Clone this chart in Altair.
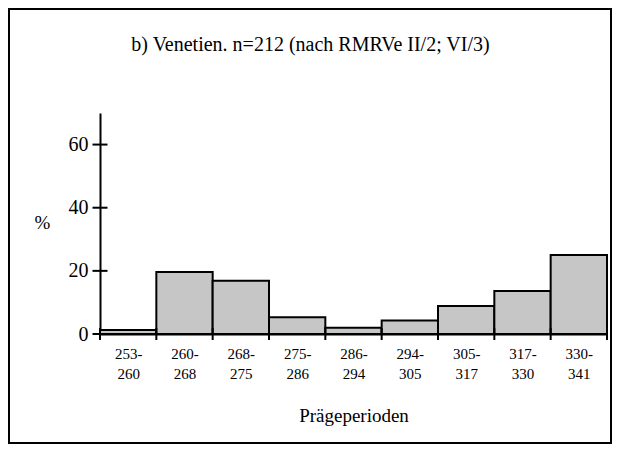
import json
import altair as alt
import pandas as pd

# Data
period_start = ["253", "260", "268", "275", "286", "294", "305", "317", "330"]
period_end = ["260", "268", "275", "286", "294", "305", "317", "330", "341"]
percent = [1.3, 19.6, 16.9, 5.3, 2.0, 4.3, 8.9, 13.6, 25.0]
y_tick_values = [0, 20, 40, 60]

n = len(percent)
bars_df = pd.DataFrame({
    "i0": list(range(n)),
    "i1": list(range(1, n + 1)),
    "pct": percent,
    "period": [f"{a}-{b}" for a, b in zip(period_start, period_end)],
})
edges_df = pd.DataFrame({"edge": list(range(n + 1))})
yticks_df = pd.DataFrame({"v": y_tick_values})

label_lines = [[f"{a}-", b] for a, b in zip(period_start, period_end)]
label_expr = f"{json.dumps(label_lines)}[floor(datum.value)]"

FONT = "Liberation Serif"

xscale = alt.Scale(domain=[0, n], nice=False, zero=False)
yscale = alt.Scale(domain=[0, 70], nice=False)

bars = alt.Chart(bars_df).mark_bar(
    fill="#c6c6c6", stroke="black", strokeWidth=2
).encode(
    x=alt.X("i0:Q", scale=xscale, title="Prägeperioden",
            axis=alt.Axis(values=[i + 0.5 for i in range(n)], labelExpr=label_expr,
                          ticks=False, grid=False, domainColor="black", domainWidth=2,
                          labelFont=FONT, labelFontSize=15, labelColor="black",
                          labelPadding=12, labelLineHeight=20, labelBaseline="top",
                          titleFont=FONT, titleFontSize=19, titleFontWeight="normal",
                          titleColor="black", titlePadding=25)),
    x2="i1:Q",
    y=alt.Y("pct:Q", scale=yscale, title="%",
            axis=alt.Axis(values=y_tick_values, ticks=False, grid=False,
                          domainColor="black", domainWidth=2,
                          labelFont=FONT, labelFontSize=20, labelColor="black",
                          labelPadding=12,
                          titleFont=FONT, titleFontSize=19, titleFontWeight="normal",
                          titleColor="black", titleAngle=0, titleAlign="center",
                          titleBaseline="middle", titleX=-58, titleY=109)),
    y2=alt.datum(0),
)

xticks = alt.Chart(edges_df).mark_tick(
    orient="vertical", size=12, thickness=2, color="black", opacity=1
).encode(
    x=alt.X("edge:Q", scale=xscale),
    y=alt.datum(0),
)

yticks = alt.Chart(yticks_df).mark_tick(
    orient="horizontal", size=15, thickness=2, color="black", opacity=1
).encode(
    y=alt.Y("v:Q", scale=yscale),
    x=alt.datum(0),
)

frame = alt.Chart(pd.DataFrame({"a": [0]})).mark_rect(
    fill=None, stroke="black", strokeWidth=2, clip=False
).encode(
    x=alt.value(-91), x2=alt.value(511),
    y=alt.value(-104), y2=alt.value(330),
)

chart = alt.layer(frame, bars, xticks, yticks).properties(
    width=507,
    height=221,
    autosize=alt.AutoSizeParams(type="none"),
    padding={"left": 92, "top": 105, "right": 6, "bottom": 110},
    title=alt.Title("b) Venetien. n=212 (nach RMRVe II/2; VI/3)",
                    font=FONT, fontSize=20, fontWeight="normal", color="black",
                    anchor="middle", dx=-43, dy=24, offset=-43, baseline="bottom"),
).configure(background="white", view=alt.ViewConfig(stroke=None))

chart.save("out.html", embed_options={"renderer": "svg", "actions": False})
